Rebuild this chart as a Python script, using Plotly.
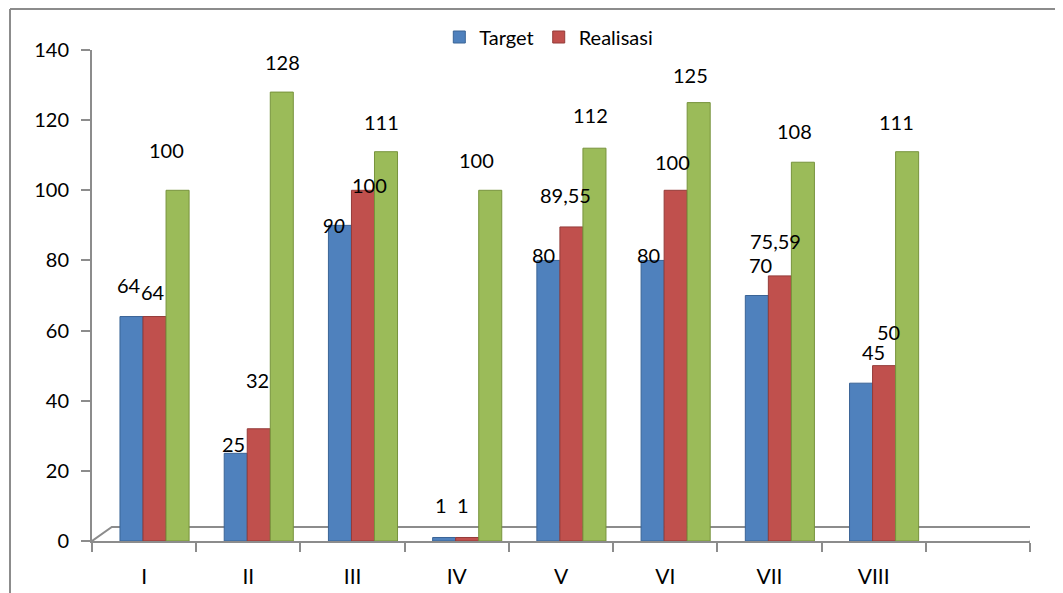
import plotly.graph_objects as go

categories = ["I", "II", "III", "IV", "V", "VI", "VII", "VIII"]
target = [64, 25, 90, 1, 80, 80, 70, 45]
realisasi = [64, 32, 100, 1, 89.55, 100, 75.59, 50]
persen = [100, 128, 111, 100, 112, 125, 108, 111]

target_labels = ["64", "25", "<i>90</i>", "1", "80", "80", "70", "45"]
realisasi_labels = ["64", "32", "100", "1", "89,55", "100", "75,59", "50"]
persen_labels = ["100", "128", "111", "100", "112", "125", "108", "111"]

y_ticks = [0, 20, 40, 60, 80, 100, 120, 140]

# label placement (pixel nudges, style only)
target_dx = [-3, -2, -6, -3, -5, -4, 4, 12]
target_dy = [32, 9, 0, 32, 5, 5, 31, 31]
realisasi_dx = [-2, -1, 7, -4, -6, -3, -4, 4]
realisasi_dy = [25, 49, 5, 32, 32, 28, 35, 34]
persen_dx = [-11, 1, -5, -14, -4, -8, -8, -11]
persen_dy = [40, 30, 30, 30, 33, 28, 31, 30]

FONT = "Lato, Open Sans, sans-serif"
BLUE = "#4F81BD"
RED = "#C0504D"
GREEN = "#9BBB59"
GREY = "#8C8C8C"

depth = 0.1      # 3D depth shift of the bar group
bargap = 0.337
w = (1 - bargap) / 3
xpos = [i + depth for i in range(len(categories))]

series = [
    ("Target", target, target_labels, BLUE, "#3A6496", True, -1, target_dx, target_dy),
    ("Realisasi", realisasi, realisasi_labels, RED, "#943B39", True, 0, realisasi_dx, realisasi_dy),
    ("Persen", persen, persen_labels, GREEN, "#77933C", False, 1, persen_dx, persen_dy),
]

fig = go.Figure()
annotations = []
for name, vals, labels, col, dark, show, k, dxs, dys in series:
    fig.add_trace(go.Bar(
        x=xpos, y=vals, name=name, showlegend=show,
        marker=dict(color=col, line=dict(color=dark, width=1)),
        hoverinfo="y",
    ))
    for xp, v, lab, dx, dy in zip(xpos, vals, labels, dxs, dys):
        annotations.append(dict(
            x=xp + k * w, y=v, xref="x", yref="y", text=lab, showarrow=False,
            xanchor="center", yanchor="middle", xshift=dx, yshift=dy,
            font=dict(family=FONT, size=20, color="black"),
        ))

# page body adds an 8px offset; margins compensate
L, T, R, B = 84, 42, 41, 60
PW = 1063 - L - R
PH = 593 - T - B

n_slots = len(categories) + 1
fig.update_layout(
    width=1063, height=593,
    margin=dict(l=L, r=R, t=T, b=B, autoexpand=False),
    paper_bgcolor="white", plot_bgcolor="white",
    barmode="group", bargap=bargap, bargroupgap=0,
    font=dict(family=FONT, size=20, color="black"),
    legend=dict(orientation="h", x=0.487, xanchor="center", y=1 + (T - 29) / PH, yanchor="middle",
                font=dict(size=20), bgcolor="rgba(0,0,0,0)", itemwidth=30),
    annotations=annotations,
    xaxis=dict(
        range=[-0.5, n_slots - 0.5], automargin=False,
        tickmode="array", tickvals=list(range(len(categories))), ticktext=categories,
        ticks="", showgrid=False, zeroline=False,
        showline=True, linecolor=GREY, linewidth=2,
        tickfont=dict(size=21), ticklabelstandoff=16,
        minor=dict(ticks="outside", tick0=-0.5, dtick=1, ticklen=9, tickcolor=GREY, tickwidth=2, showgrid=False),
    ),
    yaxis=dict(
        range=[0, 140], tickmode="array", tickvals=y_ticks, automargin=False,
        ticks="outside", ticklen=9, tickcolor=GREY, tickwidth=2,
        showgrid=False, zeroline=False, showline=True, linecolor=GREY, linewidth=2,
        tickfont=dict(size=20), ticklabelstandoff=8,
    ),
)

# 3D floor outline (decorative)
fl = 4.0
dxf = 0.19
fig.add_shape(type="path", xref="x", yref="y",
              path=f"M -0.5,0 L {-0.5+dxf},{fl} L {n_slots-0.5+dxf},{fl} L {n_slots-0.5},0",
              line=dict(color=GREY, width=2), layer="below")

# chart border (top and left)
top_y = 1 + (T - 1) / PH
left_x = (2 - L) / PW
fig.add_shape(type="line", xref="paper", yref="paper",
              x0=left_x, x1=(1063 - L) / PW, y0=top_y, y1=top_y,
              line=dict(color=GREY, width=2))
fig.add_shape(type="line", xref="paper", yref="paper",
              x0=left_x, x1=left_x, y0=top_y, y1=-B / PH,
              line=dict(color=GREY, width=2))

fig.write_html("out.html")
